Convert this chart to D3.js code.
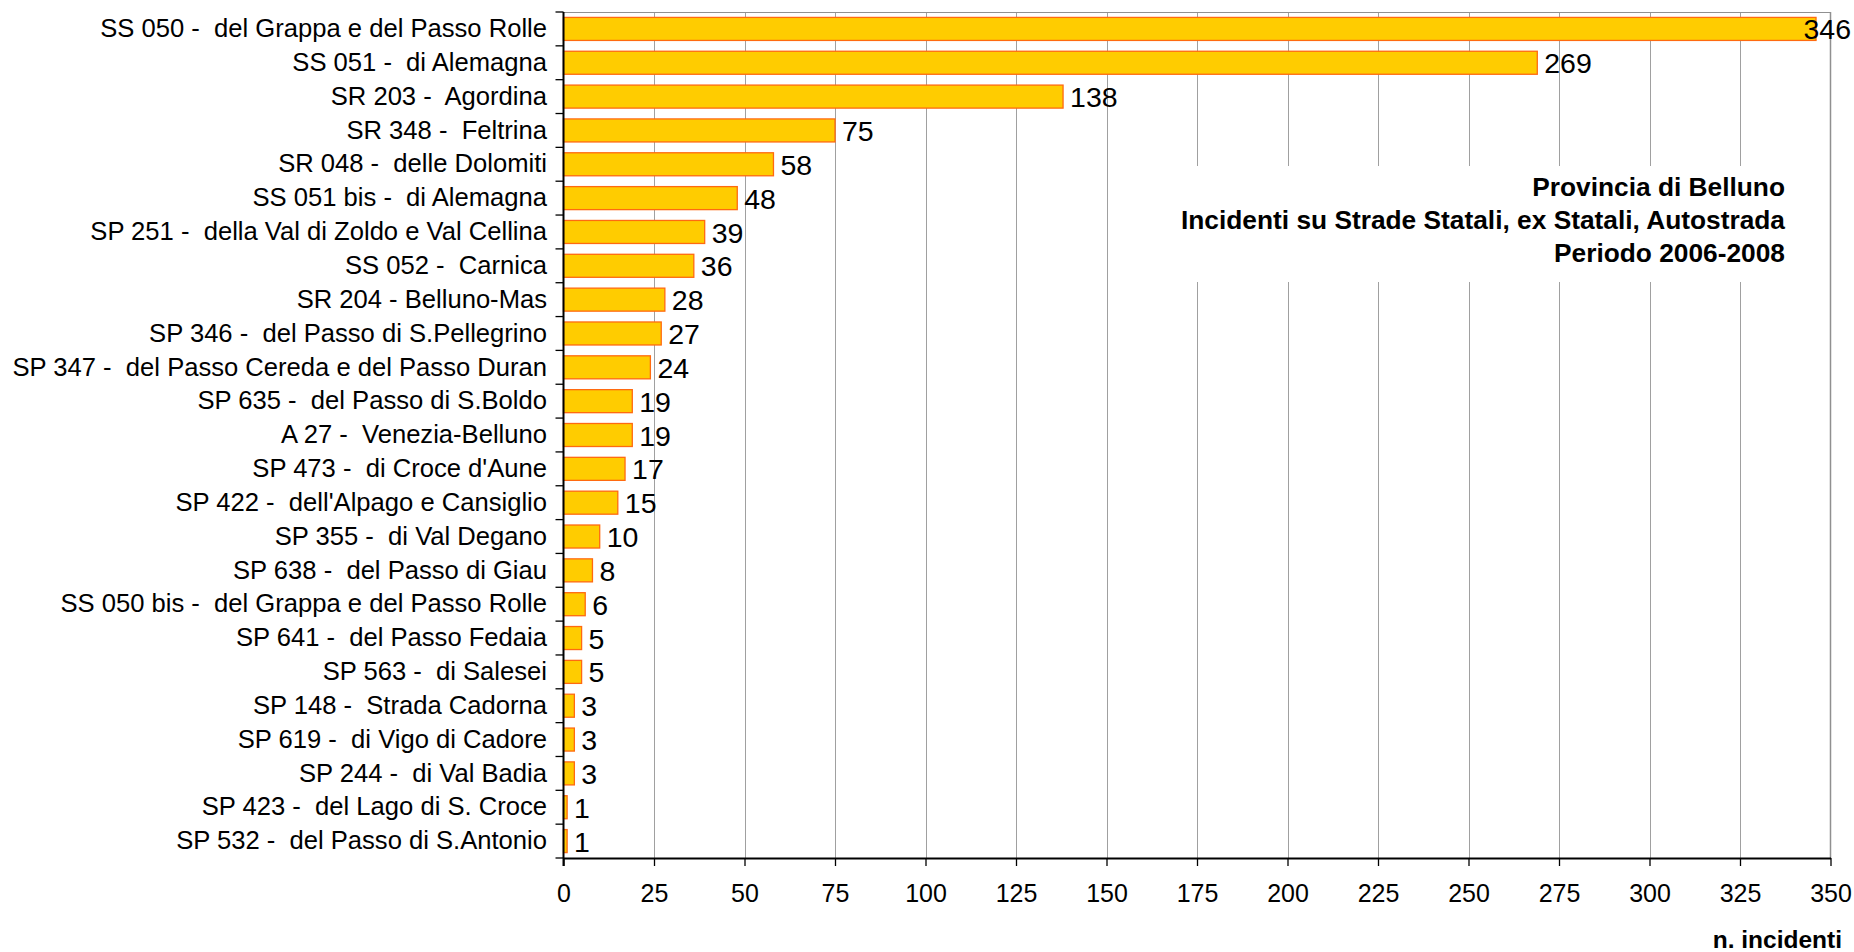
<!DOCTYPE html>
<html>
<head>
<meta charset="utf-8">
<script src="https://cdn.jsdelivr.net/npm/d3@7"></script>
<style>
  html, body { margin: 0; padding: 0; background: #ffffff; }
  svg { display: block; font-family: "Liberation Sans", Arial, sans-serif; }
  svg text { white-space: pre; }
</style>
</head>
<body>
<svg id="chart" width="1854" height="952"></svg>
<script>
const categories = [
  "SS 050 -  del Grappa e del Passo Rolle",
  "SS 051 -  di Alemagna",
  "SR 203 -  Agordina",
  "SR 348 -  Feltrina",
  "SR 048 -  delle Dolomiti",
  "SS 051 bis -  di Alemagna",
  "SP 251 -  della Val di Zoldo e Val Cellina",
  "SS 052 -  Carnica",
  "SR 204 - Belluno-Mas",
  "SP 346 -  del Passo di S.Pellegrino",
  "SP 347 -  del Passo Cereda e del Passo Duran",
  "SP 635 -  del Passo di S.Boldo",
  "A 27 -  Venezia-Belluno",
  "SP 473 -  di Croce d'Aune",
  "SP 422 -  dell'Alpago e Cansiglio",
  "SP 355 -  di Val Degano",
  "SP 638 -  del Passo di Giau",
  "SS 050 bis -  del Grappa e del Passo Rolle",
  "SP 641 -  del Passo Fedaia",
  "SP 563 -  di Salesei",
  "SP 148 -  Strada Cadorna",
  "SP 619 -  di Vigo di Cadore",
  "SP 244 -  di Val Badia",
  "SP 423 -  del Lago di S. Croce",
  "SP 532 -  del Passo di S.Antonio"
];
const values = [346, 269, 138, 75, 58, 48, 39, 36, 28, 27, 24, 19, 19, 17, 15, 10, 8, 6, 5, 5, 3, 3, 3, 1, 1];
const xTicks = [0, 25, 50, 75, 100, 125, 150, 175, 200, 225, 250, 275, 300, 325, 350];
const titleLines = ["Provincia di Belluno", "Incidenti su Strade Statali, ex Statali, Autostrada", "Periodo 2006-2008"];
const xAxisTitle = "n. incidenti";

const W = 1854, H = 952;
const plot = { left: 563.5, right: 1830.5, top: 12, bottom: 858 };

const svg = d3.select("#chart");

const x = d3.scaleLinear().domain([0, 350]).range([plot.left, plot.right]);
const y = d3.scaleBand().domain(categories).range([plot.top, plot.bottom])
  .paddingInner(0.32).paddingOuter(0.16);

// gridlines
svg.append("g").selectAll("line").data(xTicks.filter(t => t > 0 && t < 350)).join("line")
  .attr("x1", d => Math.round(x(d)) + 0.5).attr("x2", d => Math.round(x(d)) + 0.5)
  .attr("y1", plot.top).attr("y2", plot.bottom)
  .attr("stroke", "#a0a0a0").attr("stroke-width", 1);

// white box behind title
svg.append("rect").attr("x", 1150).attr("y", 166).attr("width", 678).attr("height", 116)
  .attr("fill", "#ffffff");

// plot border (top and right)
svg.append("line").attr("x1", plot.left).attr("x2", plot.right).attr("y1", plot.top + 0.5).attr("y2", plot.top + 0.5)
  .attr("stroke", "#909090").attr("stroke-width", 1.2);
svg.append("line").attr("x1", plot.right).attr("x2", plot.right).attr("y1", plot.top).attr("y2", plot.bottom)
  .attr("stroke", "#909090").attr("stroke-width", 1.5);

// bars
svg.append("g").selectAll("rect").data(categories).join("rect")
  .attr("x", x(0))
  .attr("y", (d) => y(d))
  .attr("width", (d, i) => x(values[i]) - x(0))
  .attr("height", y.bandwidth())
  .attr("fill", "#FFCC00")
  .attr("stroke", "#FF6A10")
  .attr("stroke-width", 1.3);

// value labels
const vl = svg.append("g").selectAll("text").data(categories).join("text")
  .attr("x", (d, i) => x(values[i]) + 7)
  .attr("y", d => y(d) + y.bandwidth() / 2)
  .attr("dy", "0.37em")
  .attr("font-size", "28.5px")
  .attr("fill", "#000")
  .text((d, i) => values[i]);
vl.each(function () {
  const len = this.getComputedTextLength();
  const xx = +this.getAttribute("x");
  if (xx + len > W - 3) this.setAttribute("x", W - 3 - len);
});

// bottom axis
const xAxis = svg.append("g").attr("transform", `translate(0,${plot.bottom})`)
  .call(d3.axisBottom(x).tickValues(xTicks).tickSize(8).tickSizeOuter(0).tickPadding(18));
xAxis.select(".domain").attr("stroke", "#000").attr("stroke-width", 2);
xAxis.selectAll(".tick line").attr("stroke", "#000").attr("stroke-width", 1.3);
xAxis.selectAll(".tick text").attr("font-size", "25px").attr("fill", "#000")
  .attr("font-family", "'Liberation Sans', Arial, sans-serif");

// left axis labels
const yAxis = svg.append("g").attr("transform", `translate(${plot.left},0)`)
  .call(d3.axisLeft(y).tickSize(0).tickPadding(16.5));
yAxis.select(".domain").remove();
yAxis.selectAll(".tick text").attr("font-size", "25.6px").attr("fill", "#000")
  .attr("font-family", "'Liberation Sans', Arial, sans-serif");

// left axis line and boundary ticks
svg.append("line").attr("x1", plot.left).attr("x2", plot.left).attr("y1", plot.top).attr("y2", plot.bottom + 8)
  .attr("stroke", "#000").attr("stroke-width", 2);
const boundaries = d3.range(categories.length + 1).map(i => y.range()[0] + i * y.step());
svg.append("g").selectAll("line").data(boundaries).join("line")
  .attr("x1", plot.left - 8).attr("x2", plot.left)
  .attr("y1", d => d).attr("y2", d => d)
  .attr("stroke", "#000").attr("stroke-width", 1.3);

// title
svg.append("g").selectAll("text").data(titleLines).join("text")
  .attr("x", 1785)
  .attr("y", (d, i) => 196 + i * 33)
  .attr("text-anchor", "end")
  .attr("font-size", "26.3px")
  .attr("font-weight", "bold")
  .attr("fill", "#000")
  .text(d => d);

// x axis title
svg.append("text").attr("x", 1842).attr("y", 948).attr("text-anchor", "end")
  .attr("font-size", "24.5px").attr("font-weight", "bold").attr("fill", "#000")
  .text(xAxisTitle);
</script>
</body>
</html>
